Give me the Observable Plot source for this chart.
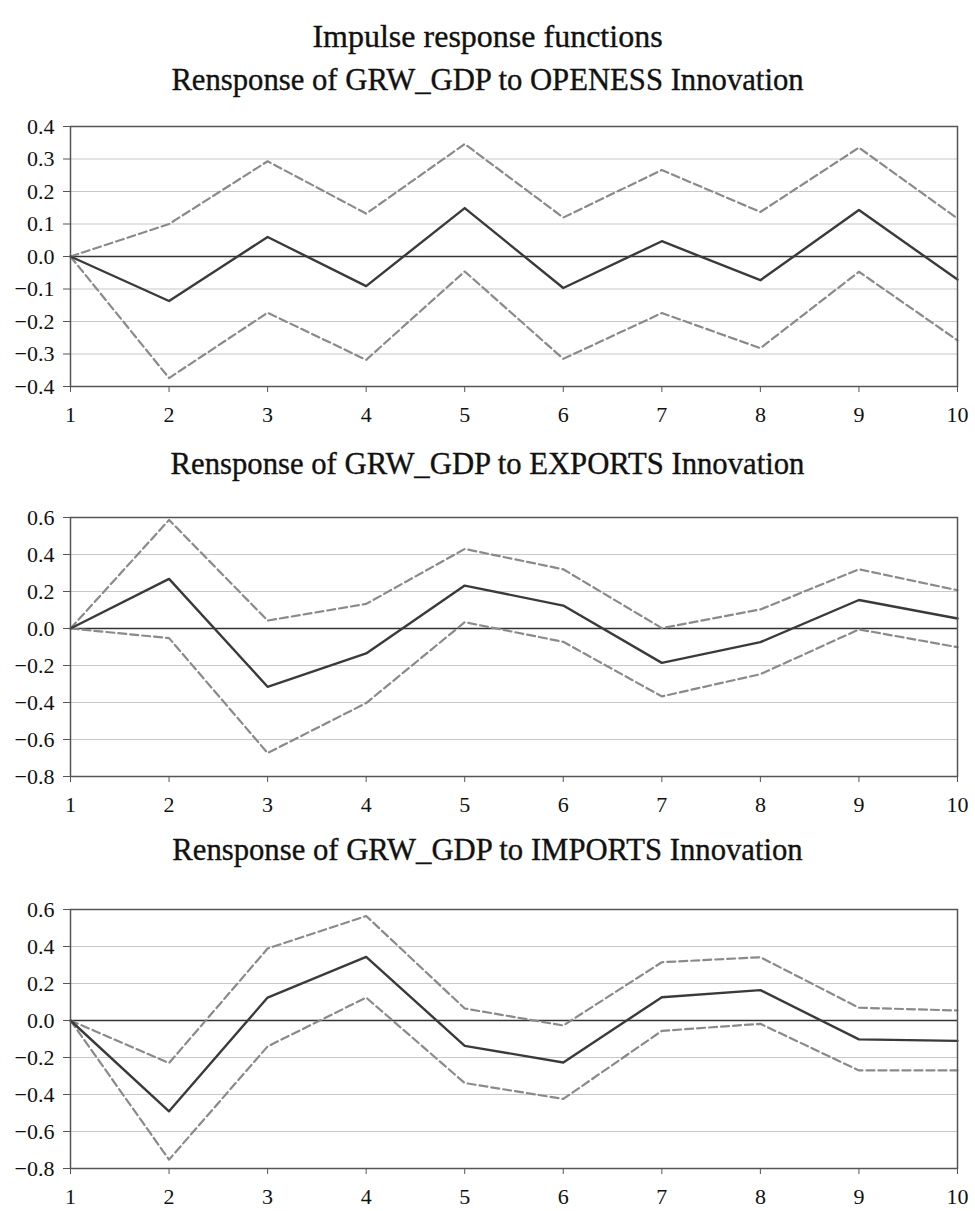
<!DOCTYPE html>
<html>
<head>
<meta charset="utf-8">
<script src="https://cdn.jsdelivr.net/npm/d3@7"></script>
<script src="https://cdn.jsdelivr.net/npm/@observablehq/plot@0.6"></script>
<style>
  html, body { margin: 0; padding: 0; background: #fff; }
  body { width: 975px; height: 1211px; position: relative; overflow: hidden; font-family: "Liberation Serif", serif; color: #111; }
  .title { position: absolute; left: 0; width: 975px; text-align: center; font-size: 30.7px; line-height: 30px; -webkit-text-stroke: 0.35px #111; white-space: nowrap; }
  .panel { position: absolute; left: 0; }
  .panel svg, .panel svg text { font-family: "Liberation Serif", serif !important; }
</style>
</head>
<body>
<div class="title" id="main" style="top:21px; font-size:32px;">Impulse response functions</div>
<div id="root"></div>
<script>
const periods = [1, 2, 3, 4, 5, 6, 7, 8, 9, 10];

const titles = [
  "Rensponse of GRW_GDP to OPENESS Innovation",
  "Rensponse of GRW_GDP to EXPORTS Innovation",
  "Rensponse of GRW_GDP to IMPORTS Innovation"
];

// Panel 1: OPENESS
const openessResp  = [0, -0.137, 0.060, -0.091, 0.149, -0.097, 0.047, -0.073, 0.143, -0.071];
const openessUpper = [0, 0.100, 0.293, 0.132, 0.346, 0.120, 0.266, 0.137, 0.335, 0.117];
const openessLower = [0, -0.374, -0.173, -0.318, -0.046, -0.315, -0.174, -0.282, -0.047, -0.258];

// Panel 2: EXPORTS
const exportsResp  = [0, 0.268, -0.315, -0.135, 0.232, 0.124, -0.186, -0.074, 0.154, 0.054];
const exportsUpper = [0, 0.587, 0.043, 0.133, 0.430, 0.320, 0.002, 0.103, 0.320, 0.207];
const exportsLower = [0, -0.052, -0.673, -0.403, 0.034, -0.072, -0.367, -0.247, -0.005, -0.101];

// Panel 3: IMPORTS
const importsResp  = [0, -0.491, 0.124, 0.344, -0.137, -0.227, 0.126, 0.164, -0.102, -0.110];
const importsUpper = [0, -0.230, 0.389, 0.565, 0.065, -0.027, 0.315, 0.342, 0.069, 0.054];
const importsLower = [0, -0.752, -0.140, 0.124, -0.338, -0.424, -0.056, -0.018, -0.270, -0.270];

const yTicks1 = [-0.4, -0.3, -0.2, -0.1, 0.0, 0.1, 0.2, 0.3, 0.4];
const yTicks23 = [-0.8, -0.6, -0.4, -0.2, 0.0, 0.2, 0.4, 0.6];

const panels = [
  {title: titles[0], resp: openessResp, upper: openessUpper, lower: openessLower, ticks: yTicks1, titleTop: 65, svgTop: 106, plotH: 260},
  {title: titles[1], resp: exportsResp, upper: exportsUpper, lower: exportsLower, ticks: yTicks23, titleTop: 449, svgTop: 497, plotH: 259},
  {title: titles[2], resp: importsResp, upper: importsUpper, lower: importsLower, ticks: yTicks23, titleTop: 835, svgTop: 889, plotH: 259}
];

const root = document.getElementById("root");
const fmt = d3.format(".1f");

for (const p of panels) {
  const t = document.createElement("div");
  t.className = "title";
  t.style.top = p.titleTop + "px";
  t.textContent = p.title;
  root.appendChild(t);

  const mk = (arr) => periods.map((x, i) => ({x, y: arr[i]}));
  const ext = d3.extent(p.ticks);
  const chart = Plot.plot({
    width: 975,
    height: 20 + p.plotH + 40,
    marginTop: 20,
    marginBottom: 40,
    marginLeft: 70,
    marginRight: 18,
    style: "font-family: 'Liberation Serif', serif; font-size: 22px; color: #111; background: #fff;",
    x: {domain: [1, 10], label: null},
    y: {domain: ext, label: null},
    marks: [
      Plot.ruleY(p.ticks.filter(v => v !== 0 && v !== ext[0] && v !== ext[1]), {stroke: "#c8c8c8", strokeWidth: 1.2}),
      Plot.ruleY([0], {stroke: "#333", strokeWidth: 1.3}),
      Plot.lineY(mk(p.upper), {x: "x", y: "y", stroke: "#8a8a8a", strokeWidth: 2.2, strokeDasharray: "8,4"}),
      Plot.lineY(mk(p.lower), {x: "x", y: "y", stroke: "#8a8a8a", strokeWidth: 2.2, strokeDasharray: "8,4"}),
      Plot.lineY(mk(p.resp), {x: "x", y: "y", stroke: "#3a3a3a", strokeWidth: 2.4}),
      Plot.frame({stroke: "#555", strokeWidth: 1.5}),
      Plot.axisX({ticks: periods, tickFormat: d => d, tickSize: 6, tickPadding: 14, stroke: "#555", fill: "#111"}),
      Plot.axisY({ticks: p.ticks, tickFormat: fmt, tickSize: 7, tickPadding: 9, stroke: "#555", fill: "#111"})
    ]
  });
  const wrap = document.createElement("div");
  wrap.className = "panel";
  wrap.style.top = p.svgTop + "px";
  wrap.appendChild(chart);
  root.appendChild(wrap);
}
</script>
</body>
</html>
